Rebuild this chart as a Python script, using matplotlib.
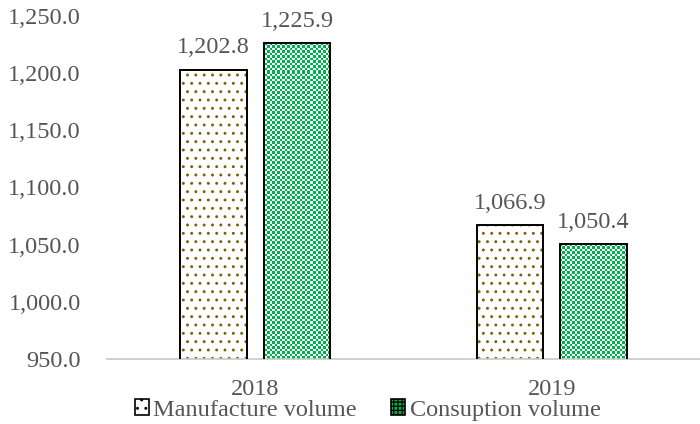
import matplotlib
matplotlib.use("Agg")
import matplotlib.pyplot as plt
import numpy as np
from matplotlib.patches import Patch
from matplotlib.colors import to_rgb

categories = ["2018", "2019"]
manufacture = [1202.8, 1066.9]
consumption = [1225.9, 1050.4]
series_names = ["Manufacture volume", "Consuption volume"]

plt.rcParams['font.family'] = ['Liberation Serif', 'DejaVu Serif']
plt.rcParams['hatch.linewidth'] = 0.9

fig = plt.figure(figsize=(7.0, 4.24), dpi=100)
ax = fig.add_axes([0.153, 0.153, 0.847, 0.81])

x = np.arange(len(categories))
w = 0.225
off = 0.141
tc = '#555555'
fs = 17.5
dot_c = '#7f6000'
grn = '#00b050'
ylo, yhi = 950, 1250
xlo, xhi = -0.5, 1.5

ax.bar(x - off, manufacture, w, color='white', edgecolor=dot_c, hatch='..', linewidth=0)
gbars = ax.bar(x + off, consumption, w, color=grn, linewidth=0)
ax.bar(x - off, manufacture, w, fill=False, edgecolor='black', linewidth=1.4, zorder=3)
ax.bar(x + off, consumption, w, fill=False, edgecolor='black', linewidth=1.4, zorder=3)

# checkerboard texture for the green bars, clipped to each bar
fw, fh = fig.get_size_inches() * fig.dpi
pos = ax.get_position()
W, H = int(round(pos.width * fw)), int(round(pos.height * fh))
jj, ii = np.meshgrid(np.arange(W), np.arange(H))
chk = (np.floor(jj / 2.5) + np.floor(ii / 2.5)) % 2
g_rgb = np.array(to_rgb(grn))
w_rgb = np.array(to_rgb('#f4fbf7'))
tex = np.where(chk[..., None] == 0, g_rgb, w_rgb)
for rect in gbars:
    im = ax.imshow(tex, extent=(xlo, xhi, ylo, yhi), origin='lower', aspect='auto',
                   interpolation='nearest', zorder=2)
    im.set_clip_path(rect)

for xs, vals in ((x - off, manufacture), (x + off, consumption)):
    for xi, v in zip(xs, vals):
        ax.annotate(f"{v:,.1f}", (xi, v), xytext=(0, 12), textcoords='offset points',
                    ha='center', va='baseline', fontsize=fs, color=tc)

ax.set_ylim(ylo, yhi)
ax.set_xlim(xlo, xhi)
yt = np.arange(950, 1251, 50)
ax.set_yticks(yt)
ax.set_yticklabels([f"{v:,.1f}" for v in yt])
ax.set_xticks(x)
ax.set_xticklabels(categories)
ax.tick_params(axis='both', length=0, labelsize=fs, labelcolor=tc)
ax.tick_params(axis='y', pad=19)
ax.tick_params(axis='x', pad=14)
for s in ['top', 'right', 'left']:
    ax.spines[s].set_visible(False)
ax.spines['bottom'].set_color('#c8c8c8')
ax.spines['bottom'].set_linewidth(1.2)

h1 = Patch(facecolor='white', edgecolor=dot_c, hatch='..', linewidth=0)
h2 = Patch(facecolor=grn, edgecolor='white', hatch='++++', linewidth=0)
leg = fig.legend([h1, h2], series_names, loc='center', bbox_to_anchor=(0.525, 0.033),
                 ncol=2, frameon=False, fontsize=fs, handlelength=0.58, handleheight=0.58,
                 handletextpad=0.17, columnspacing=1.44, labelcolor=tc,
                 borderpad=0, borderaxespad=0)
for p in leg.get_patches():
    p.set_edgecolor('black')
    p.set_linewidth(1.2)

fig.savefig("out.png", dpi=100)
